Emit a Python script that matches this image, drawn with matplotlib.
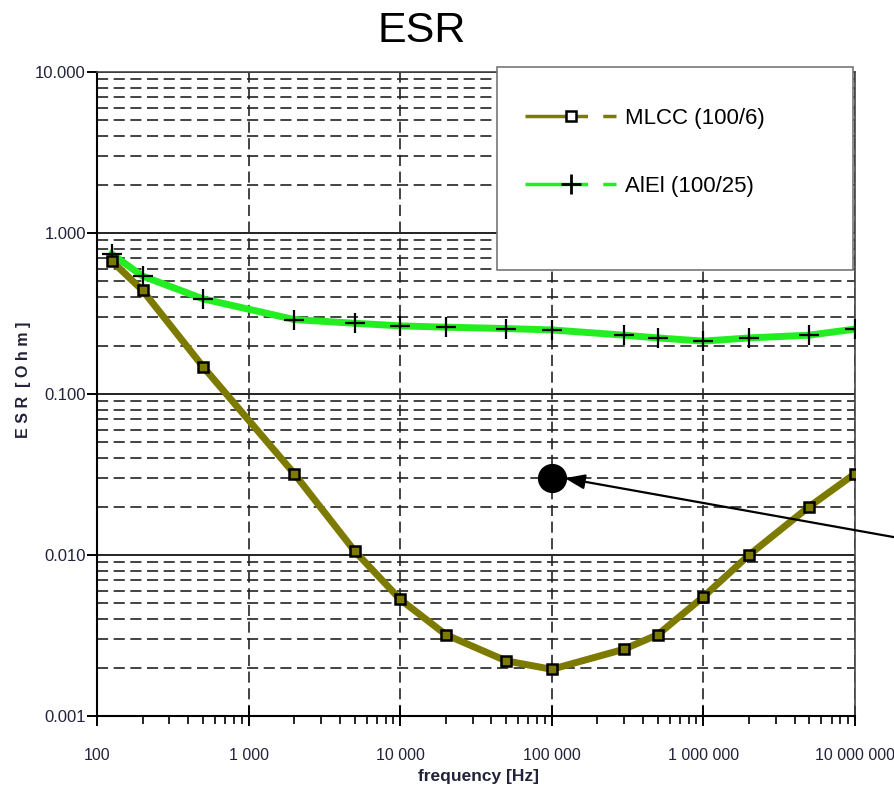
import numpy as np
import matplotlib
matplotlib.use("Agg")
import matplotlib.pyplot as plt
from matplotlib.ticker import FuncFormatter, LogLocator, NullFormatter
from matplotlib.lines import Line2D
from matplotlib.patches import Rectangle

plt.rcParams["font.family"] = ["Liberation Sans", "DejaVu Sans"]
plt.rcParams["lines.scale_dashes"] = False

# ================= DATA =================

freq_mlcc = [125, 200, 500, 2000, 5000, 10000, 20000, 50000, 100000,
             300000, 500000, 1e6, 2e6, 5e6, 1e7]
esr_mlcc = [0.67, 0.44, 0.148, 0.032, 0.0106, 0.0053, 0.0032, 0.0022, 0.00195,
            0.0026, 0.0032, 0.0055, 0.0100, 0.020, 0.032]

freq_alel = [125, 200, 500, 2000, 5000, 10000, 20000, 50000, 100000,
             300000, 500000, 1e6, 2e6, 5e6, 1e7]
esr_alel = [0.74, 0.54, 0.39, 0.29, 0.275, 0.265, 0.26, 0.255, 0.25,
            0.232, 0.223, 0.213, 0.223, 0.232, 0.253]

label_mlcc = "MLCC (100/6)"
label_alel = "AlEl (100/25)"

dot_freq = 1e5
dot_esr = 0.03

x_ticks = [1e2, 1e3, 1e4, 1e5, 1e6, 1e7]
y_ticks = [0.001, 0.01, 0.1, 1, 10]

olive = "#7d7a00"
green = "#22ee22"
tick_col = "#22223a"

# ================= PLOT =================

fig = plt.figure(figsize=(8.95, 7.92), dpi=100)
ax = fig.add_axes([97 / 895, 1 - 716 / 792, (855 - 97) / 895, (716 - 72) / 792])

ax.set_xscale("log")
ax.set_yscale("log")
ax.set_xlim(100, 1e7)
ax.set_ylim(0.001, 10)

# grid
ax.set_xticks(x_ticks)
ax.set_yticks(y_ticks)
ax.xaxis.set_minor_locator(LogLocator(base=10, subs=np.arange(2, 10)))
ax.yaxis.set_minor_locator(LogLocator(base=10, subs=np.arange(2, 10)))
ax.xaxis.set_minor_formatter(NullFormatter())
ax.yaxis.set_minor_formatter(NullFormatter())
ax.grid(which="major", axis="x", color="#222222", linestyle=(0, (8, 4)), linewidth=1.2)
ax.grid(which="major", axis="y", color="#222222", linestyle="-", linewidth=1.4)
ax.grid(which="minor", axis="y", color="#222222", linestyle=(0, (8, 4)), linewidth=1.2)
ax.set_axisbelow(True)

ax.xaxis.set_major_formatter(FuncFormatter(lambda v, p: f"{int(round(v)):,}".replace(",", " ")))
ax.yaxis.set_major_formatter(FuncFormatter(lambda v, p: f"{v:.3f}"))

ax.tick_params(axis="x", which="major", direction="inout", length=14, width=1.4,
               pad=16, labelsize=11.5, labelcolor=tick_col)
ax.tick_params(axis="x", which="minor", direction="out", length=6, width=1.2)
ax.tick_params(axis="y", which="major", direction="out", length=7, width=1.4,
               pad=1, labelsize=12, labelcolor=tick_col)
ax.tick_params(axis="y", which="minor", length=0)

for s in ["left", "bottom"]:
    ax.spines[s].set_linewidth(1.5)
    ax.spines[s].set_color("black")
for s in ["top", "right"]:
    ax.spines[s].set_linewidth(1.2)
    ax.spines[s].set_color("#444444")

# curves
ax.plot(freq_alel, esr_alel, color=green, linewidth=5, zorder=3)
ax.plot(freq_alel, esr_alel, linestyle="none", marker="+", markersize=15,
        markeredgewidth=1.6, color="black", zorder=4)
ax.plot(freq_mlcc, esr_mlcc, color=olive, linewidth=5, zorder=5)
ax.plot(freq_mlcc, esr_mlcc, linestyle="none", marker="s", markersize=7,
        markerfacecolor=olive, markeredgecolor="black", markeredgewidth=1.8, zorder=6)

# black dot with arrow
ax.plot([dot_freq], [dot_esr], marker="o", markersize=20, color="black", zorder=7)
ax.annotate("", xy=(dot_freq * 1.22, dot_esr * 1.0), xycoords="data",
            xytext=(910, 792 - 540), textcoords="figure pixels",
            arrowprops=dict(arrowstyle="-|>,head_length=1.2,head_width=0.45",
                            color="black", linewidth=1.6, shrinkA=0, shrinkB=0),
            annotation_clip=False, zorder=8)

# labels
ax.set_xlabel("frequency [Hz]", fontsize=12.5, fontweight="bold", color=tick_col)
ax.xaxis.set_label_coords((479 - 97) / (855 - 97), -(769 - 716) / (716 - 72))
ax.set_ylabel("E S R  [ O h m ]", fontsize=11.5, fontweight="bold", color=tick_col)
ax.yaxis.set_label_coords(-(97 - 31) / (855 - 97), (716 - 380) / (716 - 72))
fig.text(0.471, 1 - 31 / 792, "ESR", fontsize=31, ha="center", va="center")

# legend box
box = Rectangle((497 / 895, 1 - 270 / 792), (853 - 497) / 895, (270 - 67) / 792,
                transform=fig.transFigure, facecolor="white", edgecolor="#777777",
                linewidth=1.2, zorder=9)
fig.patches.append(box)
handles = [
    Line2D([], [], color=olive, linewidth=2.5, linestyle=(0, (45, 11, 10, 200)),
           marker="s", markersize=7, markerfacecolor="white",
           markeredgecolor="black", markeredgewidth=1.8),
    Line2D([], [], color=green, linewidth=2.5, linestyle=(0, (45, 11, 10, 200)),
           marker="+", markersize=15, markeredgecolor="black", markeredgewidth=2),
]
leg = fig.legend(handles, [label_mlcc, label_alel], loc="upper left",
                 bbox_to_anchor=(514 / 895, 1 - 97 / 792), frameon=False,
                 fontsize=16, handlelength=4.1, handletextpad=0.4,
                 labelspacing=2.1, numpoints=1, borderpad=0)
leg.set_zorder(10)

plt.savefig("out.png", dpi=100)
